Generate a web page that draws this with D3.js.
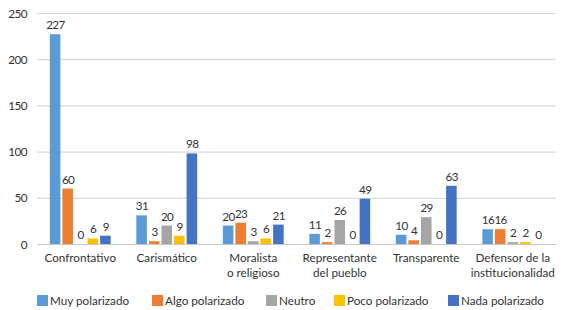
<!DOCTYPE html>
<html><head><meta charset="utf-8">
<script src="https://cdn.jsdelivr.net/npm/d3@7"></script>
<style>body{margin:0;background:#fff}svg{display:block}text{font-family:Lato,sans-serif}</style>
</head><body><svg id="c" width="566" height="310"></svg>
<script>
const categories = [["Confrontativo"],["Carismático"],["Moralista","o religioso"],["Representante","del pueblo"],["Transparente"],["Defensor de la","institucionalidad"]];
const seriesNames = ["Muy polarizado","Algo polarizado","Neutro","Poco polarizado","Nada polarizado"];
const muy = [227,31,20,11,10,16];
const algo = [60,3,23,2,4,16];
const neutro = [0,20,3,26,29,2];
const poco = [6,9,6,0,0,2];
const nada = [9,98,21,49,63,0];
const yTicks = [0,50,100,150,200,250];
const colors = ["#5B9BD5","#ED7D31","#A5A5A5","#FFC000","#4472C4"];
const series = [muy,algo,neutro,poco,nada];

(function(){
const svg = d3.select("#c");
const pLeft=37,pRight=556,pTop=13,pBottom=244;
const fs = 11.7;
const x0 = d3.scaleBand().domain(d3.range(categories.length)).range([pLeft,pRight]).paddingInner(0.25).paddingOuter(0.125);
const x1 = d3.scaleBand().domain(d3.range(seriesNames.length)).range([0,x0.bandwidth()]).padding(0.16);
const y = d3.scaleLinear().domain([0,250]).range([pBottom,pTop]);

const g = svg.append("g");
g.selectAll("line.grid").data(yTicks).join("line")
  .attr("x1",pLeft).attr("x2",pRight).attr("y1",d=>y(d)+0.5).attr("y2",d=>y(d)+0.5)
  .attr("stroke",d=>d===0?"#c8c8c8":"#d9d9d9").attr("stroke-width",1.2);
g.selectAll("text.yt").data(yTicks).join("text")
  .attr("x",27).attr("y",d=>y(d)+4.5).attr("text-anchor","end")
  .attr("font-size",fs).attr("letter-spacing",-0.5).attr("fill","#333").text(d=>d);

series.forEach((vals,si)=>{
  const sg = g.append("g");
  sg.selectAll("rect").data(vals).join("rect")
    .attr("x",(d,i)=>x0(i)+x1(si)).attr("width",x1.bandwidth())
    .attr("y",d=>y(d)).attr("height",d=>pBottom-y(d)).attr("fill",colors[si]);
  sg.selectAll("text").data(vals).join("text")
    .attr("x",(d,i)=>x0(i)+x1(si)+x1.bandwidth()/2+0.3).attr("y",d=>y(d)-5)
    .attr("text-anchor","middle").attr("font-size",fs).attr("letter-spacing",-0.7)
    .attr("fill","#333").text(d=>d);
});

categories.forEach((lines,i)=>{
  const cx = x0(i)+x0.bandwidth()/2;
  const t = g.append("text").attr("x",cx).attr("y",262)
    .attr("text-anchor","middle").attr("font-size",fs).attr("fill","#333");
  lines.forEach((l,j)=>t.append("tspan").attr("x",cx).attr("dy",j?15:0).text(l));
});

const legX = [37,152,266,334,448];
seriesNames.forEach((n,i)=>{
  g.append("rect").attr("x",legX[i]).attr("y",295).attr("width",11).attr("height",11).attr("fill",colors[i]);
  g.append("text").attr("x",legX[i]+13).attr("y",305).attr("font-size",fs).attr("fill","#333").text(n);
});
})();
</script></body></html>
